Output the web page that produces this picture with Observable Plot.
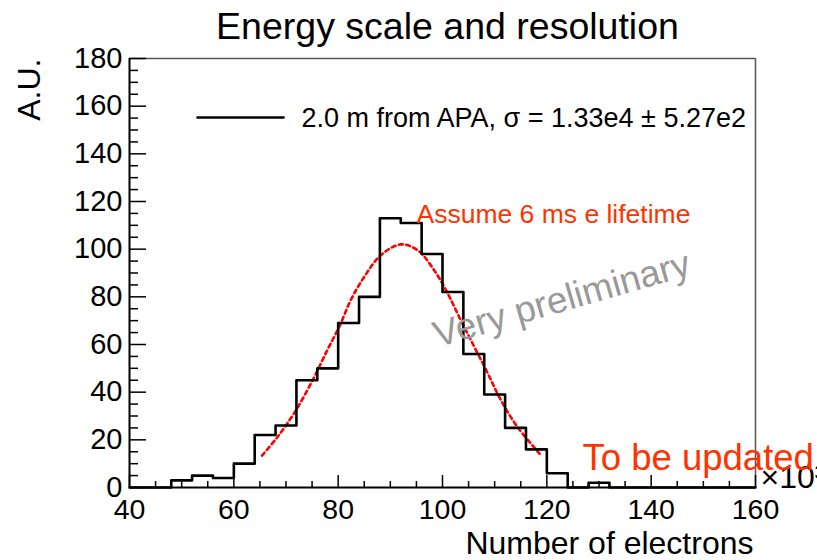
<!DOCTYPE html>
<html><head><meta charset="utf-8">
<script src="https://cdn.jsdelivr.net/npm/d3@7"></script>
<script src="https://cdn.jsdelivr.net/npm/@observablehq/plot@0.6"></script>
<style>html,body{margin:0;padding:0;background:#fff;} svg{display:block;}</style>
</head><body><div id="chart"></div>
<script>
// Histogram: lower bin edges (x 10^3 electrons) and counts
const binLow = [40,44,48,52,56,60,64,68,72,76,80,84,88,92,96,100,104,108,112,116,120,124,128,132,136,140,144,148,152,156];
const counts = [0,0,3,5,4,10,22,26,45,50,69,80,113,111,98,82,56,39,25,16,6,0,2,0,0,0,0,0,0,0];
const binWidth = 4;

// Fit curve points
const fitX = [65.4,68.3,71.9,75.4,77.9,80.2,82.4,85.0,88.2,92.0,95.2,98.4,101.0,103.5,106.1,108.7,111.2,114.4,118.6];
const fitY = [13.4,21.0,32.4,46.3,57.6,67.4,78.6,88.4,97.5,102.0,99.6,91.2,81.4,70.2,59.0,47.8,36.6,25.3,14.2];

// Ticks
const xMajor = [40,60,80,100,120,140,160];
const xMinor = [45,50,55,65,70,75,85,90,95,105,110,115,125,130,135,145,150,155];
const yMajor = [0,20,40,60,80,100,120,140,160,180];
const yMinor = [5,10,15,25,30,35,45,50,55,65,70,75,85,90,95,105,110,115,125,130,135,145,150,155,165,170,175];

// Texts
const titleText = "Energy scale and resolution";
const xLabel = "Number of electrons";
const yLabel = "A.U.";
const legendText = "2.0 m from APA, \u03C3 = 1.33e4 \u00B1 5.27e2";
const noteText = "Assume 6 ms e lifetime";
const stampText = "Very preliminary";
const updateText = "To be updated";
const expText = "\u00D710\u00B3";

const hist = binLow.map((x, i) => ({x, y: counts[i]}));
hist.push({x: binLow[binLow.length - 1] + binWidth, y: 0});
const fit = fitX.map((x, i) => ({x, y: fitY[i]}));

const lineShape = {draw(ctx, l) { ctx.moveTo(0, 0); ctx.lineTo(0, -l); }};
const red = "#ff3300";

const chart = Plot.plot({
  width: 817,
  height: 560,
  marginLeft: 129,
  marginRight: 62,
  marginTop: 58,
  marginBottom: 73,
  style: {fontFamily: "'Liberation Sans', Arial, Helvetica, sans-serif", background: "#fff", color: "#000"},
  x: {domain: [40, 160], axis: null},
  y: {domain: [0, 180], axis: null},
  marks: [
    Plot.ruleY([180], {stroke: "#555", strokeWidth: 1.5}),
    Plot.ruleX([160], {stroke: "#555", strokeWidth: 1.5}),
    // ticks
    Plot.axisY(yMajor, {tickSize: -17, fill: "none", strokeWidth: 1.5, label: null}),
    Plot.axisY(yMinor, {tickSize: -9, fill: "none", strokeWidth: 1.5, label: null}),
    Plot.axisX(xMajor, {tickSize: -12, fill: "none", strokeWidth: 1.5, label: null}),
    Plot.axisX(xMinor, {tickSize: -6, fill: "none", strokeWidth: 1.5, label: null}),
    // tick labels
    Plot.axisY(yMajor, {tickSize: 0, tickPadding: 7, fontSize: 29, label: null}),
    Plot.axisX(xMajor, {tickSize: 0, tickPadding: 11, fontSize: 28.5, label: null}),
    // fit
    Plot.line(fit, {x: "x", y: "y", curve: "catmull-rom", stroke: "#ff0000", strokeWidth: 2.6, strokeDasharray: "4,3.5"}),
    // histogram
    Plot.line(hist, {x: "x", y: "y", curve: "step-after", stroke: "#000", strokeWidth: 2.6}),
    // axis lines
    Plot.ruleX([40], {stroke: "#000", strokeWidth: 2}),
    Plot.ruleY([0], {stroke: "#000", strokeWidth: 2}),
    // title and labels
    Plot.text([titleText], {text: d => d, frameAnchor: "top", dx: 5, dy: -20, lineAnchor: "bottom", fontSize: 37.5}),
    Plot.text([xLabel], {text: d => d, frameAnchor: "bottom-right", textAnchor: "end", lineAnchor: "bottom", dx: -2, dy: 66, fontSize: 32}),
    Plot.text([yLabel], {text: d => d, frameAnchor: "top-left", textAnchor: "end", lineAnchor: "bottom", rotate: -90, dx: -90, dy: 0, fontSize: 32}),
    Plot.text([expText], {text: d => d, frameAnchor: "bottom-right", textAnchor: "start", lineAnchor: "bottom", dx: 5, dy: 0, fontSize: 32}),
    // legend
    Plot.vector([0], {frameAnchor: "top-left", dx: 68, dy: 59, length: 86, rotate: 90, anchor: "start", shape: lineShape, stroke: "#000", strokeWidth: 2.5}),
    Plot.text([legendText], {text: d => d, frameAnchor: "top-left", textAnchor: "start", lineAnchor: "bottom", dx: 172, dy: 68, fontSize: 27}),
    // annotations
    Plot.text([noteText], {text: d => d, frameAnchor: "top-left", textAnchor: "start", lineAnchor: "bottom", dx: 287, dy: 164, fontSize: 26.5, fill: red}),
    Plot.text([stampText], {text: d => d, frameAnchor: "top-left", textAnchor: "start", lineAnchor: "bottom", dx: 308, dy: 289, rotate: -16, fontSize: 37, fill: "#999"}),
    Plot.text([updateText], {text: d => d, frameAnchor: "bottom-left", textAnchor: "start", lineAnchor: "bottom", dx: 453, dy: -18, fontSize: 36.5, fill: red})
  ]
});
document.getElementById("chart").appendChild(chart);
</script>
</body></html>
